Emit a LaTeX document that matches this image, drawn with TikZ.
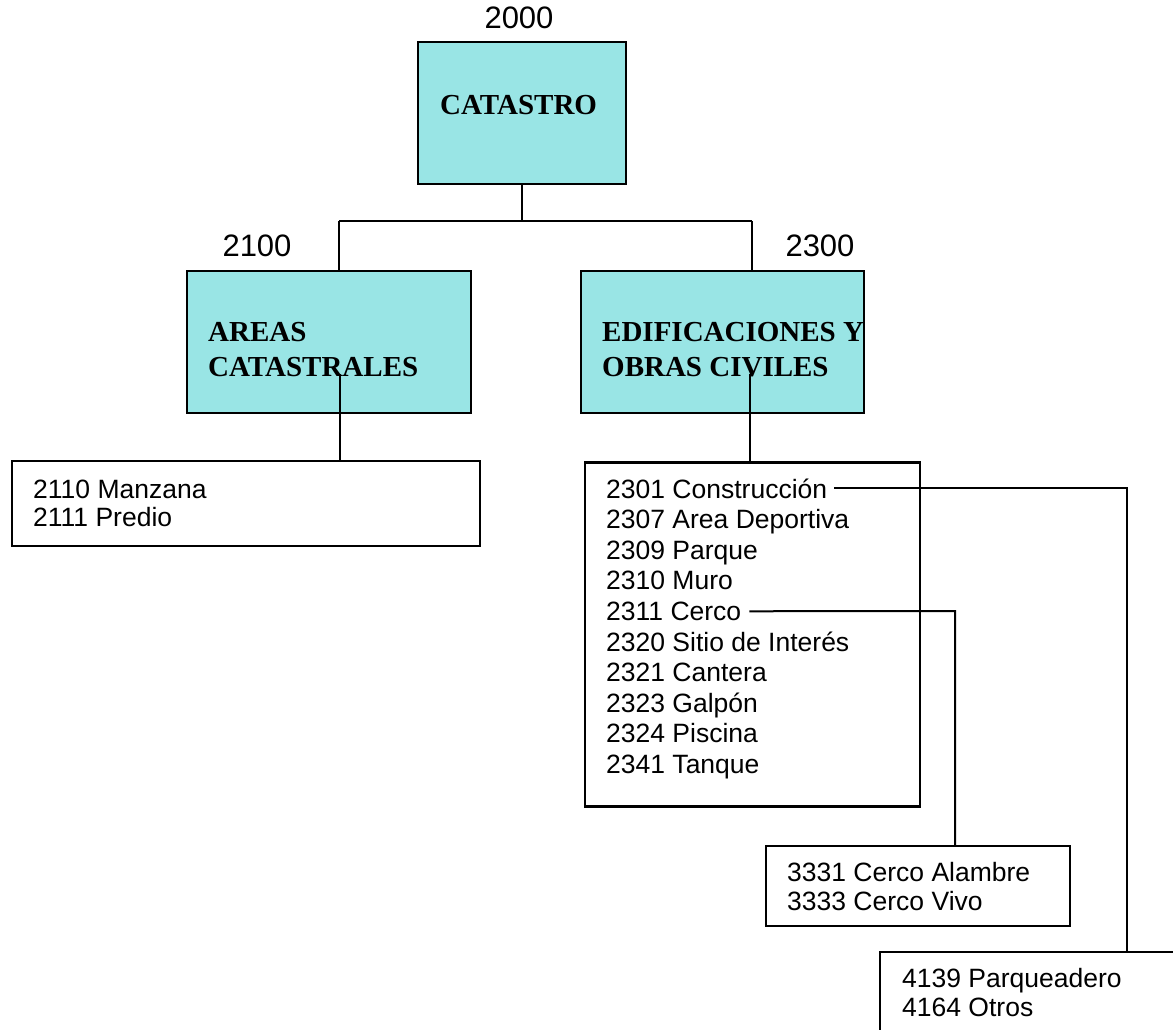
\documentclass[tikz,border=0pt]{standalone}
\usepackage{fontspec}
\setmainfont{Liberation Serif}
\setsansfont{Liberation Sans}
\usepackage{xcolor}
\usepackage{tikz}
\usetikzlibrary{positioning,calc}

\definecolor{catcyan}{RGB}{153,229,229}

\begin{document}
\begin{tikzpicture}[x=1pt, y=-1pt,
        catbox/.style={rectangle, draw=black, fill=catcyan, line width=2.4pt, inner sep=0pt},
        listbox/.style={rectangle, draw=black, fill=white, line width=2.4pt, inner sep=0pt},
        title/.style={anchor=base west, inner sep=0pt, align=left, font=\bfseries\fontsize{29}{35}\selectfont},
        code/.style={anchor=base, inner sep=0pt, font=\sffamily\fontsize{31}{36}\selectfont},
        item/.style={anchor=base west, inner sep=0pt, font=\sffamily\fontsize{26.5}{30}\selectfont},
        link/.style={line width=2pt}]

        \useasboundingbox (0,0) rectangle (1173,1030);
        \clip (0,0) rectangle (1173,1030);

        % Top level
        \node[catbox, minimum width=208, minimum height=142] (catastro) at (522,113) {};
        \node[title] (catastrotxt) at (440,115) {CATASTRO};
        \node[code] (c2000) at (519,29) {2000};

        % Second level
        \node[catbox, minimum width=284, minimum height=142] (areas) at (329,341.7) {};
        \node[title] (areastxt) at (208,376.5) {AREAS\\CATASTRALES};
        \node[code] (c2100) at (257,256) {2100};

        \node[catbox, minimum width=283, minimum height=142] (edif) at (722.5,341.7) {};
        \node[title] (ediftxt) at (602,376.7) {EDIFICACIONES Y\\OBRAS CIVILES};
        \node[code] (c2300) at (820,256) {2300};

        % Areas catastrales list
        \node[listbox, minimum width=468, minimum height=85] (manzana) at (246,503.5) {};
        \node[item] (i2110) at (33,498) {2110 Manzana};
        \node[item] (i2111) at (33,526) {2111 Predio};

        % Edificaciones list
        \node[listbox, minimum width=335, minimum height=344] (obras) at (752.5,634.5) {};
        \node[item] (i2301) at (606,498) {2301 Construcción};
        \node[item] (i2307) at (606,528.6) {2307 Area Deportiva};
        \node[item] (i2309) at (606,559.2) {2309 Parque};
        \node[item] (i2310) at (606,589.8) {2310 Muro};
        \node[item] (i2311) at (606,620.4) {2311 Cerco};
        \node[item] (i2320) at (606,651) {2320 Sitio de Interés};
        \node[item] (i2321) at (606,681.6) {2321 Cantera};
        \node[item] (i2323) at (606,712.2) {2323 Galpón};
        \node[item] (i2324) at (606,742.8) {2324 Piscina};
        \node[item] (i2341) at (606,773.4) {2341 Tanque};

        % Cerco list
        \node[listbox, minimum width=304, minimum height=80] (alambre) at (918,886) {};
        \node[item] (i3331) at (787,881.7) {3331 Cerco Alambre};
        \node[item] (i3333) at (787,910) {3333 Cerco Vivo};

        % Construccion list
        \node[listbox, minimum width=494, minimum height=160] (parq) at (1127,1032) {};
        \node[item] (i4139) at (902,987) {4139 Parqueadero};
        \node[item] (i4164) at (902,1016.5) {4164 Otros};

        % Connections
        \coordinate (busl) at (339,221);
        \coordinate (busr) at (751.5,221);
        \draw[link] (catastro.south) -- (catastro.south |- busl);
        \draw[link] (busl) -- (busr);
        \draw[link] (busl) -- (busl |- areas.north);
        \draw[link] (busr) -- (busr |- edif.north);

        \coordinate (areasstem) at (339.5,374);
        \coordinate (edifstem) at (750,374);
        \draw[link] (areasstem) -- (areasstem |- manzana.north);
        \draw[link] (edifstem) -- (edifstem |- obras.north);

        \coordinate (cercoturn) at (955,611);
        \draw[link] ([xshift=8]i2311.east) -- (cercoturn) -- (cercoturn |- alambre.north);
        \draw[link] ([xshift=7]i2301.east) -| (parq.north);
    \end{tikzpicture}
\end{document}
